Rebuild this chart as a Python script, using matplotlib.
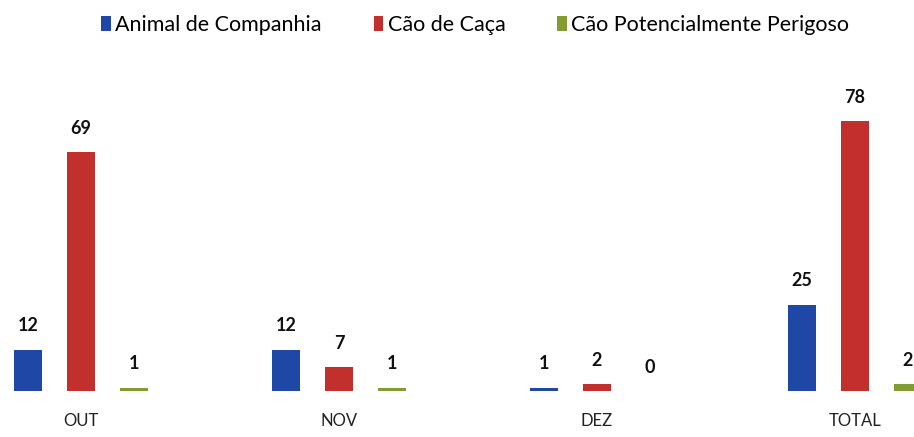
import numpy as np
import matplotlib.pyplot as plt

plt.rcParams['font.family'] = ['Lato', 'DejaVu Sans']

meses = ['OUT', 'NOV', 'DEZ', 'TOTAL']
series = ['Animal de Companhia', 'Cão de Caça', 'Cão Potencialmente Perigoso']
companhia = [12, 12, 1, 25]
caca = [69, 7, 2, 78]
perigoso = [1, 1, 0, 2]
cores = ['#1f47a6', '#c2302d', '#839c30']

fig = plt.figure(figsize=(9.14, 4.37), dpi=100)
ax = fig.add_axes([0, 0.105, 1, 0.76])

x = np.arange(len(meses))
larg = 0.108
desl = 0.205
for i, (vals, nome) in enumerate(zip([companhia, caca, perigoso], series)):
    pos = x + (i - 1) * desl
    ax.bar(pos, vals, width=larg, color=cores[i], label=nome)
    for p, v in zip(pos, vals):
        ax.annotate(str(v), (p, v), xytext=(0, 11), textcoords='offset points',
                    ha='center', va='bottom', fontsize=13, fontweight='bold',
                    color='#111111')

ax.set_xlim(-0.314, 3.229)
ax.set_ylim(0, 96)
ax.set_xticks(x)
ax.set_xticklabels(meses, fontsize=12, color='#222222')
ax.tick_params(axis='x', length=0, pad=16)
ax.set_yticks([])
for s in ax.spines.values():
    s.set_visible(False)

fig.legend(loc='upper center', bbox_to_anchor=(0.52, 1.01), ncol=3, frameon=False,
           fontsize=15.5, handlelength=0.45, handleheight=0.7, handletextpad=0.2,
           columnspacing=2.4)

fig.savefig('out.png', dpi=100)
